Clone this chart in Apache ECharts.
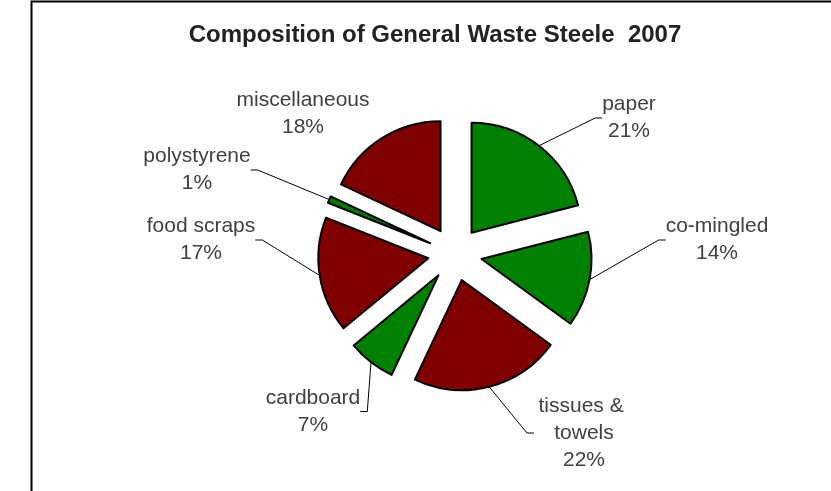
<!DOCTYPE html>
<html>
<head>
<meta charset="utf-8">
<style>
  html, body { margin: 0; padding: 0; background: #fff; }
  #chart { width: 831px; height: 491px; }
</style>
<script src="https://cdn.jsdelivr.net/npm/echarts@6/dist/echarts.min.js"></script>
</head>
<body>
<div id="chart"></div>
<script>
// ---- data ----
var categories = ['paper', 'co-mingled', 'tissues & towels', 'cardboard', 'food scraps', 'polystyrene', 'miscellaneous'];
var values = [21, 14, 22, 7, 17, 1, 18];
var sliceColors = ['#008000', '#008000', '#800000', '#008000', '#800000', '#008000', '#800000'];

// label anchor positions (layout, in pixels)
var labelPos = [[629, 118], [717, 240], [584, 433], [313, 411.5], [201, 240], [197, 170], [303, 113.5]];

var PIE_CENTER = [455, 254];
var PIE_R = 110;
var EXPLODE = 27;

var chart = echarts.init(document.getElementById('chart'), null, { renderer: 'canvas' });

// exploded slices
var sliceData = categories.map(function (name, i) {
  return {
    name: name,
    value: values[i],
    selected: true,
    itemStyle: { color: sliceColors[i] },
    select: { itemStyle: { color: sliceColors[i], borderColor: '#000', borderWidth: 2 } }
  };
});

// label carrier (same values, invisible, radius reaching the exploded arcs)
var labelData = categories.map(function (name, i) {
  var item = { name: name, value: values[i] };
  if (name === 'tissues & towels') {
    item.label = { width: 100, overflow: 'break' };
  }
  if (name === 'miscellaneous') {
    item.labelLine = { show: false };
  }
  return item;
});

chart.setOption({
  animation: false,
  backgroundColor: '#fff',
  title: {
    text: 'Composition of General Waste Steele  2007',
    left: 435,
    top: 23,
    padding: 0,
    textAlign: 'center',
    textStyle: { fontFamily: 'Liberation Sans, Arial, sans-serif', fontSize: 24, fontWeight: 'bold', color: '#222' }
  },
  graphic: [{
    type: 'polyline',
    shape: { points: [[31.5, 491], [31.5, 1.5], [831, 1.5]] },
    style: { stroke: '#000', lineWidth: 2, fill: null },
    silent: true
  }],
  series: [{
    type: 'pie',
    center: PIE_CENTER,
    radius: [0, PIE_R],
    startAngle: 90,
    clockwise: true,
    selectedMode: 'multiple',
    selectedOffset: EXPLODE,
    silent: true,
    emphasis: { disabled: true },
    itemStyle: { borderColor: '#000', borderWidth: 2 },
    label: { show: false },
    labelLine: { show: false },
    data: sliceData
  }, {
    type: 'pie',
    center: PIE_CENTER,
    radius: [0, PIE_R + EXPLODE],
    startAngle: 90,
    clockwise: true,
    silent: true,
    z: 1,
    avoidLabelOverlap: false,
    emphasis: { disabled: true },
    itemStyle: { color: 'rgba(0,0,0,0)', borderWidth: 0 },
    label: {
      show: true,
      formatter: '{b}\n{c}%',
      fontFamily: 'Liberation Sans, Arial, sans-serif',
      fontSize: 21,
      lineHeight: 27,
      color: '#404040',
      align: 'center'
    },
    labelLine: {
      show: true,
      length: 10,
      length2: 7,
      lineStyle: { color: '#000', width: 1 }
    },
    labelLayout: function (params) {
      var p = labelPos[params.dataIndex];
      return { x: p[0], y: p[1], align: 'center', verticalAlign: 'middle' };
    },
    data: labelData
  }]
});
</script>
</body>
</html>
